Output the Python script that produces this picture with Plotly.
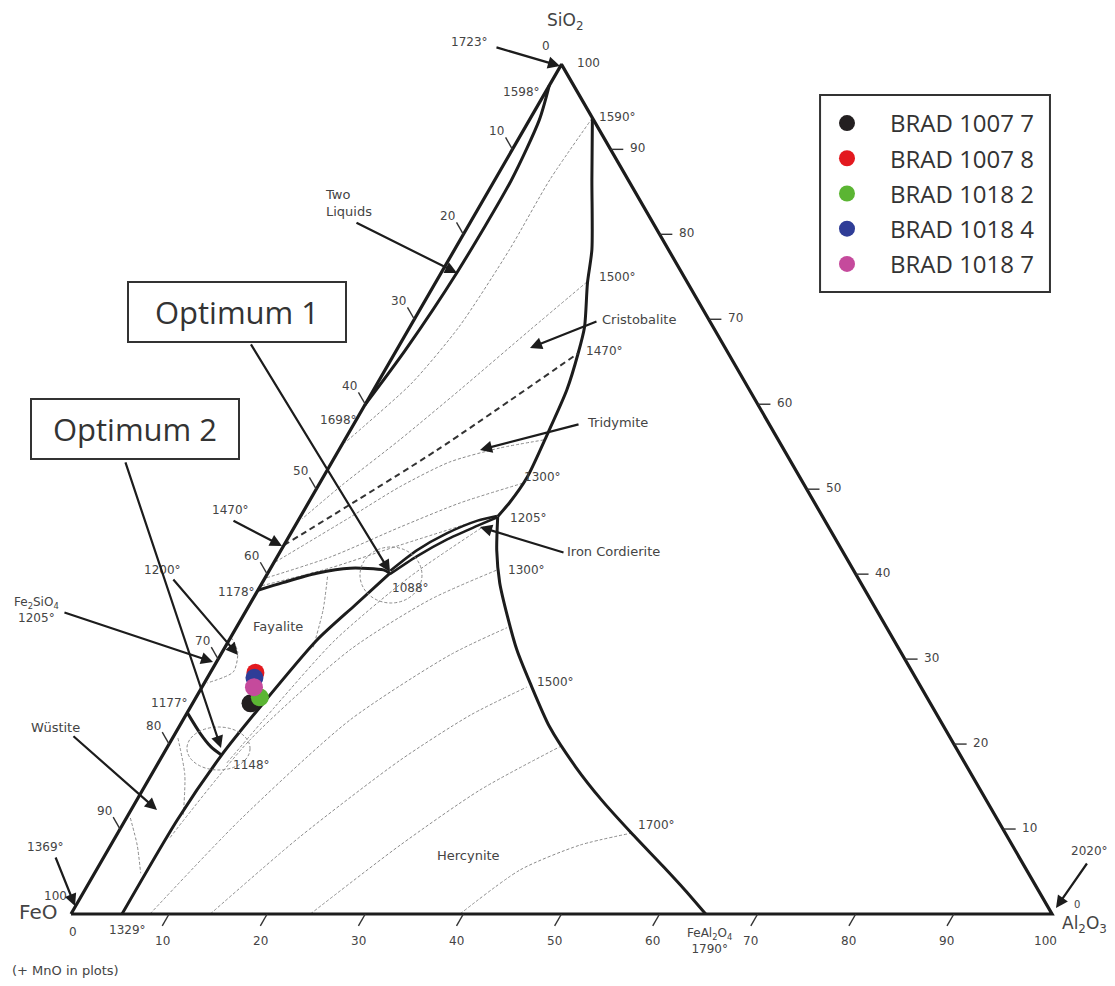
import math
import plotly.graph_objects as go

H = math.sqrt(3) / 2

# ---------------- data (wt% compositions: SiO2, Al2O3; FeO = remainder) ----------------
sample_names = ["BRAD 1007 7", "BRAD 1007 8", "BRAD 1018 2", "BRAD 1018 4", "BRAD 1018 7"]
sample_sio2 = [24.8, 28.4, 25.5, 27.8, 26.7]
sample_al2o3 = [5.9, 4.6, 6.5, 4.8, 5.3]
sample_colors = ["#231f20", "#e3191f", "#5bb533", "#2f3d97", "#c54a9c"]

tick_values = [0, 10, 20, 30, 40, 50, 60, 70, 80, 90, 100]

# thick phase boundaries
two_liquid_boundary = [(97.5, 0.0), (93.5, 1.0), (86.4, 1.7), (75.6, 1.6), (66.4, 0.9), (59.9, 0.0)]
silica_boundary = [(93.7, 6.3), (86.4, 9.9), (78.2, 14.0), (74.3, 15.5), (69.1, 17.8), (66.0, 18.7),
                   (61.7, 19.7), (56.7, 20.3), (51.4, 20.8), (48.4, 20.5), (46.8, 20.1)]
hercynite_boundary = [(46.8, 20.1), (42.8, 22.0), (39.0, 24.2), (35.0, 27.0), (31.1, 29.9), (27.2, 33.2),
                      (22.0, 37.8), (17.3, 42.8), (13.4, 47.4), (9.5, 52.4), (5.5, 57.7), (2.8, 61.2),
                      (0.0, 64.7)]
cordierite_upper = [(46.85, 20.0), (46.3, 18.3), (44.8, 15.9), (42.8, 13.85), (40.4, 12.35)]
cordierite_lower = [(46.7, 20.1), (45.7, 18.6), (44.1, 16.3), (42.1, 14.2), (40.0, 12.5)]
fayalite_hercynite = [(40.1, 12.45), (36.4, 10.8), (32.25, 8.95), (24.4, 7.1), (18.7, 6.0),
                      (11.1, 5.3), (0.0, 5.2)]
fayalite_silica = [(38.1, 0.0), (39.0, 2.1), (40.1, 5.0), (40.7, 8.1), (40.5, 11.6), (40.1, 12.45)]
wustite_fayalite = [(23.7, 0.0), (21.3, 2.5), (19.7, 4.4), (18.7, 6.0)]
tridymite_1470 = [(43.4, 0.0), (54.6, 10.0), (66.0, 18.7)]

# thin isotherms
isotherms = [
    [(93.7, 6.3), (86.4, 5.6), (78.2, 5.6), (69.1, 5.0), (62.5, 3.5), (57.5, 1.2), (55.5, 0.2)],
    [(74.4, 15.4), (68.7, 12.4), (61.7, 8.8), (55.8, 5.6), (50.5, 2.4), (46.5, 0.3)],
    [(55.8, 20.3), (54.85, 16.3), (53.2, 12.0), (50.3, 8.4), (46.7, 5.1), (41.3, 0.0)],
    [(50.7, 20.7), (48.4, 15.5), (45.55, 10.8), (42.0, 5.4), (39.5, 0.0)],
    [(46.4, 18.5), (43.4, 11.8), (40.7, 6.0), (38.6, 0.0)],
    [(17.8, 7.0), (24.4, 8.6), (32.25, 10.8), (39.7, 14.7), (45.55, 19.2)],
    [(9.0, 5.6), (20.5, 8.0), (31.1, 12.9), (37.0, 18.1), (40.5, 23.2)],
    [(0.0, 8.05), (11.1, 11.7), (22.8, 17.0), (30.5, 23.4), (33.7, 27.6)],
    [(0.0, 14.2), (9.1, 18.8), (18.1, 24.5), (23.4, 29.0), (26.7, 33.1)],
    [(0.0, 24.4), (8.1, 29.5), (14.6, 34.4), (19.7, 40.0)],
    [(0.0, 39.65), (5.2, 43.2), (8.1, 47.8), (9.5, 52.3)],
    [(39.7, 6.3), (35.8, 7.8), (31.4, 9.0)],
    [(32.6, 0.0), (30.8, 1.6), (28.5, 2.3), (27.2, 0.3)],
    [(11.3, 0.4), (8.1, 2.7), (4.8, 4.7)],
    [(20.7, 0.55), (16.4, 3.4), (11.7, 5.6)],
]


def tern(si, al):
    """composition -> cartesian position in the equilateral triangle"""
    return al + si / 2.0, si * H


def xy(points):
    return [tern(s, a)[0] for s, a in points], [tern(s, a)[1] for s, a in points]


fig = go.Figure()


def add_line(points, width, color, dash="solid", shape="spline"):
    xs, ys = xy(points)
    fig.add_trace(go.Scatter(x=xs, y=ys, mode="lines",
                             line=dict(width=width, color=color, dash=dash, shape=shape, smoothing=0.7),
                             hoverinfo="skip", showlegend=False))


for iso in isotherms:
    add_line(iso, 1, "#8a8a8a", dash="3px,2px")

THICK = "#1c1c1c"
add_line(two_liquid_boundary, 3, THICK)
add_line(silica_boundary, 3, THICK)
add_line(hercynite_boundary, 3, THICK)
add_line(cordierite_upper, 2.5, THICK)
add_line(cordierite_lower, 2.5, THICK)
add_line(fayalite_hercynite, 3, THICK)
add_line(fayalite_silica, 3, THICK)
add_line(wustite_fayalite, 3, THICK)
add_line(tridymite_1470, 2, "#333333", dash="6px,4px")

# triangle frame
add_line([(0, 0), (100, 0), (0, 100), (0, 0)], 3.2, THICK, shape="linear")

# tick marks (along lines of constant component, pointing outward)
tx, ty = [], []
for v in tick_values[1:-1]:
    s = 100 - v
    for p in (tern(s, 0), tern(s + 1.4, -1.4)):
        tx.append(p[0]); ty.append(p[1])
    tx.append(None); ty.append(None)
    for p in (tern(v, 100 - v), tern(v, 100 - v + 1.3)):
        tx.append(p[0]); ty.append(p[1])
    tx.append(None); ty.append(None)
    for p in (tern(0, v), tern(-1.4, v)):
        tx.append(p[0]); ty.append(p[1])
    tx.append(None); ty.append(None)
fig.add_trace(go.Scatter(x=tx, y=ty, mode="lines", line=dict(width=1.4, color="#333"),
                         hoverinfo="skip", showlegend=False))

# samples
for name, s, a, c in zip(sample_names, sample_sio2, sample_al2o3, sample_colors):
    x, y = tern(s, a)
    fig.add_trace(go.Scatter(x=[x], y=[y], mode="markers", name=name, legendgroup=name,
                             marker=dict(size=18, color=c, line=dict(width=0))))

# ---------------- text ----------------
TXT = "#444444"
FONT = "DejaVu Sans"
ann = []


def label(text, x, y, size=12, xanchor="center", color=TXT, family=FONT, align="center"):
    ann.append(dict(text=text, x=x, y=y, xref="x", yref="y", showarrow=False, xanchor=xanchor,
                    yanchor="middle", align=align, font=dict(size=size, color=color, family=family)))


for v in tick_values:
    x, y = tern(100 - v, 0)
    label(str(v), x - 1.63, y + 1.85)
    if v > 0:
        x, y = tern(v, 100 - v)
        label(str(v), x + 2.75, y + 0.1)
        x, y = tern(0, v)
        label(str(v), x - 0.71, y - 2.75)
label("0", 0.2, -1.83)
label("0", 102.6, 0.95, size=10)

label("SiO<sub>2</sub>", 50.36, 90.93, size=17)
label("FeO", -3.36, 0.2, size=20)
label("Al<sub>2</sub>O<sub>3</sub>", 103.3, -1.12, size=17)
label("(+ MnO in plots)", -0.6, -5.71, size=13)

label("1723°", 40.67, 88.89)
label("1598°", 45.97, 83.79)
label("1590°", 55.76, 81.24)
label("Two<br>Liquids", 25.69, 72.48, xanchor="left", align="left", size=13)
label("1500°", 55.76, 64.93)
label("Cristobalite", 53.93, 60.55, xanchor="left", size=13)
label("1470°", 52.29, 57.39, xanchor="left")
label("1698°", 27.22, 50.36)
label("Tridymite", 52.4, 50.15, xanchor="left", size=13)
label("1300°", 48.11, 44.55)
label("1470°", 16.21, 41.18)
label("1205°", 46.59, 40.37)
label("Iron Cordierite", 50.36, 36.9, xanchor="left", size=13)
label("1300°", 46.48, 35.07)
label("1200°", 9.28, 35.07)
label("1178°", 16.82, 32.82)
label("1088°", 34.56, 33.23)
label("Fe<sub>2</sub>SiO<sub>4</sub><br>1205°", -3.5, 31.0)
label("Fayalite", 21.1, 29.26, size=13)
label("1500°", 49.34, 23.65)
label("1177°", 10.09, 21.51)
label("Wüstite", -1.63, 18.96, size=13)
label("1148°", 18.45, 15.19)
label("1700°", 59.73, 9.07)
label("1369°", -2.65, 6.83)
label("Hercynite", 40.47, 6.01, size=13)
label("2020°", 103.87, 6.42)
label("1329°", 5.81, -1.63)
label("FeAl<sub>2</sub>O<sub>4</sub><br>1790°", 65.1, -2.75)

# arrows (tail -> head)
arrows = [
    ((43.22, 88.38), (49.85, 86.44)),
    ((28.95, 70.54), (39.35, 65.34)),
    ((18.25, 58.21), (32.52, 34.86)),
    ((5.5, 46.18), (15.29, 16.92)),
    ((53.72, 60.45), (46.79, 57.7)),
    ((51.89, 49.95), (41.69, 47.3)),
    ((50.36, 36.8), (41.69, 39.45)),
    ((16.41, 40.16), (21.51, 37.51)),
    ((10.3, 34.25), (17.02, 26.4)),
    ((-0.82, 30.79), (14.48, 25.69)),
    ((0.1, 18.25), (8.77, 10.6)),
    ((-1.63, 5.91), (0.41, 0.82)),
    ((103.67, 5.3), (100.41, 0.61)),
]
for (x0, y0), (x1, y1) in arrows:
    ann.append(dict(text="", x=x1, y=y1, ax=x0, ay=y0, xref="x", yref="y", axref="x", ayref="y",
                    showarrow=True, arrowhead=2, arrowsize=1.1, arrowwidth=2.2, arrowcolor="#1c1c1c",
                    standoff=0, startstandoff=0))

# optimum boxes
for text, x, y, w in [("Optimum 1", 16.92, 61.37, 216), ("Optimum 2", 6.52, 49.44, 206)]:
    ann.append(dict(text=text, x=x, y=y, xref="x", yref="y", showarrow=False, width=w, height=58,
                    bgcolor="white", bordercolor="#333", borderwidth=2, borderpad=0,
                    font=dict(size=31, color="#333", family="Open Sans")))

# dashed loops around invariant points + legend frame
shapes = [
    dict(type="circle", xref="x", yref="y", x0=29.46, x1=35.78, y0=31.7, y1=37.41,
         line=dict(color="#8a8a8a", width=1, dash="3px,2px")),
    dict(type="circle", xref="x", yref="y", x0=11.82, x1=18.25, y0=14.68, y1=19.06,
         line=dict(color="#8a8a8a", width=1, dash="3px,2px")),
    dict(type="rect", xref="paper", yref="paper", x0=0.7283, x1=0.9345, y0=0.7120, y1=0.9118,
         line=dict(color="#333", width=2), fillcolor="white", layer="below"),
]

fig.update_layout(
    width=1115, height=986, autosize=False,
    margin=dict(l=0, r=0, t=0, b=0),
    paper_bgcolor="white", plot_bgcolor="rgba(0,0,0,0)",
    xaxis=dict(range=[-6.422, 107.24], visible=False, fixedrange=True),
    yaxis=dict(range=[-8.155, 92.35], visible=False, fixedrange=True),
    annotations=ann, shapes=shapes,
    showlegend=True,
    legend=dict(x=0.7139, y=0.9057, xanchor="left", yanchor="top", bgcolor="rgba(0,0,0,0)",
                borderwidth=0, tracegroupgap=1, itemsizing="trace", itemwidth=76,
                font=dict(family="Open Sans", size=24, color="#333")),
)

fig.write_html("out.html")
